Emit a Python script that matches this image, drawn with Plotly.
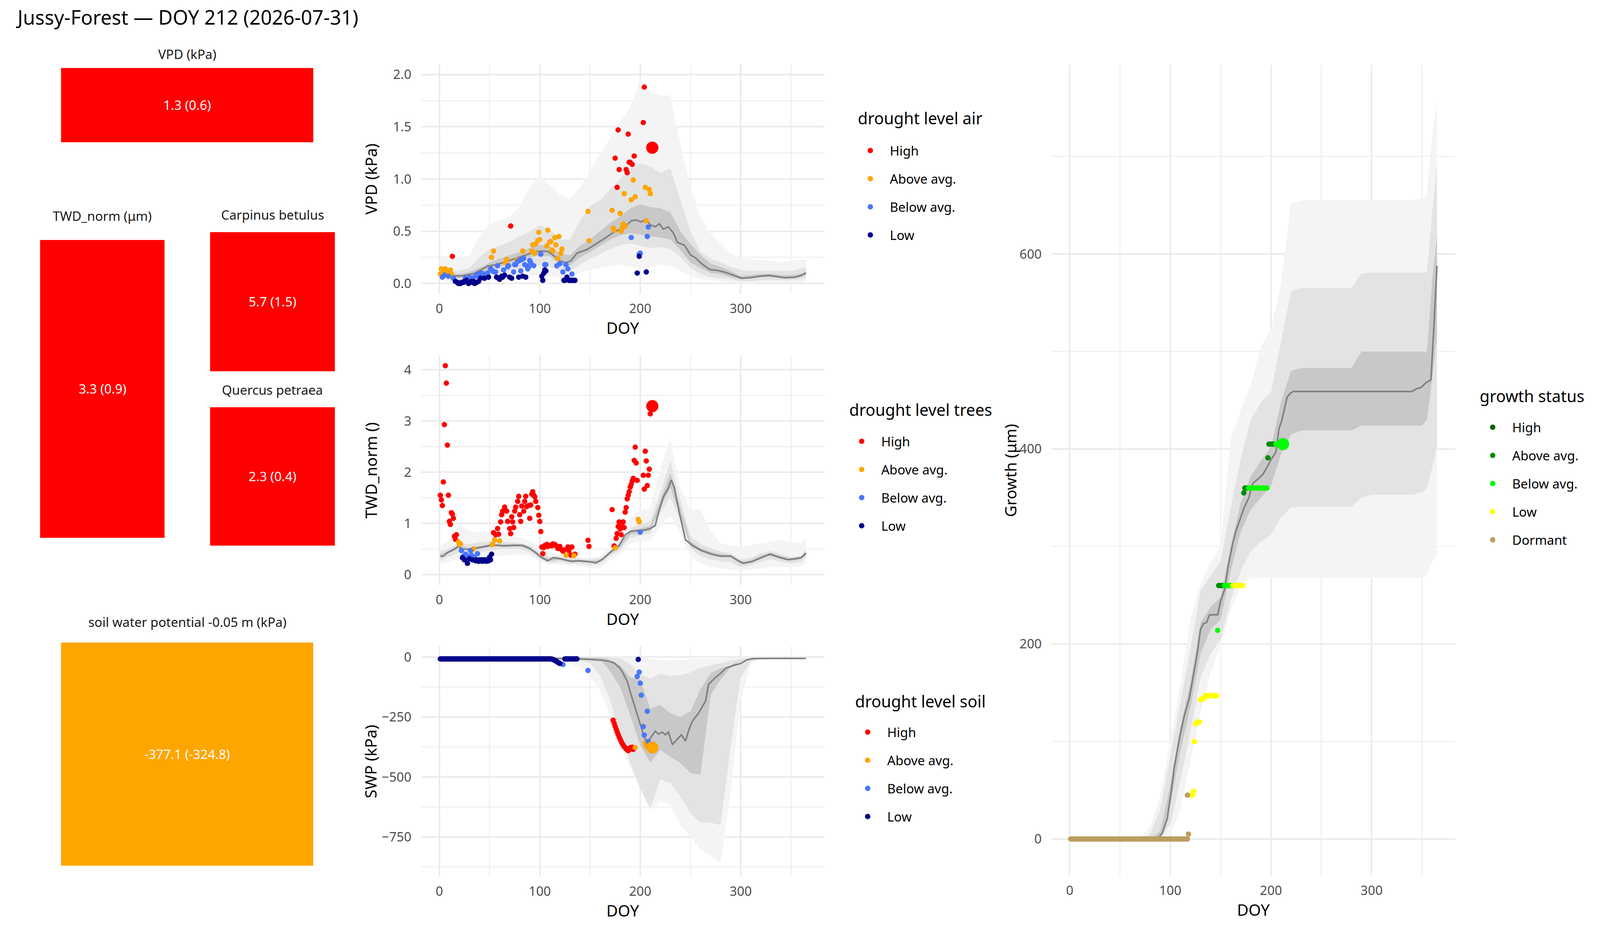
import plotly.graph_objects as go

# ---- header values ----
SITE = "Jussy-Forest"
DOY_NOW = 212
DATE_NOW = "2026-07-31"

LEVELS = ["High", "Above avg.", "Below avg.", "Low"]
LEVEL_COLORS = ["#FF0000", "#FFA500", "#4876FF", "#00008B"]
GROWTH_LEVELS = ["High", "Above avg.", "Below avg.", "Low", "Dormant"]
GROWTH_COLORS = ["#006400", "#008B00", "#00FF00", "#FFFF00", "#BC9D60"]

# ---- summary tiles ----
tile_names = ["VPD (kPa)", "TWD_norm (μm)", "Carpinus betulus", "Quercus petraea",
              "soil water potential -0.05 m (kPa)"]
tile_now = [1.3, 3.3, 5.7, 2.3, -377.1]
tile_mean = [0.6, 0.9, 1.5, 0.4, -324.8]
tile_level = ["High", "High", "High", "High", "Above avg."]

# ---- climatology bands (DOY grid) ----
band_doy = [1, 10, 20, 30, 40, 50, 60, 70, 80, 90, 100, 110, 120, 130, 140, 150, 160, 170, 180,
            190, 200, 210, 220, 230, 240, 250, 260, 270, 280, 290, 300, 310, 320, 330, 340, 350,
            360, 365]

vpd_out_hi = [0.27, 0.26, 0.25, 0.27, 0.45, 0.57, 0.61, 0.64, 0.74, 0.92, 1.04, 0.94, 0.85, 0.81,
              0.92, 1.07, 1.24, 1.39, 1.54, 1.69, 1.95, 1.84, 1.8, 1.8, 1.33, 0.92, 0.63, 0.48,
              0.38, 0.29, 0.24, 0.24, 0.22, 0.22, 0.2, 0.22, 0.23, 0.23]
vpd_out_lo = [0.03, 0.02, 0.0, 0.0, 0.01, 0.02, 0.04, 0.05, 0.06, 0.07, 0.08, 0.07, 0.05, 0.05,
              0.1, 0.13, 0.15, 0.17, 0.18, 0.16, 0.14, 0.16, 0.18, 0.17, 0.12, 0.07, 0.04, 0.03,
              0.02, 0.01, 0.0, 0.0, 0.01, 0.01, 0.01, 0.01, 0.01, 0.02]
vpd_mid_hi = [0.15, 0.13, 0.12, 0.15, 0.25, 0.33, 0.36, 0.4, 0.45, 0.5, 0.56, 0.52, 0.42, 0.42,
              0.6, 0.74, 0.8, 0.9, 1.0, 1.1, 1.15, 1.12, 1.06, 1.1, 0.8, 0.5, 0.3, 0.24, 0.2,
              0.16, 0.13, 0.12, 0.12, 0.12, 0.12, 0.12, 0.14, 0.16]
vpd_mid_lo = [0.05, 0.04, 0.03, 0.03, 0.05, 0.08, 0.1, 0.12, 0.14, 0.16, 0.17, 0.16, 0.12, 0.12,
              0.18, 0.24, 0.28, 0.33, 0.37, 0.38, 0.36, 0.34, 0.35, 0.33, 0.25, 0.15, 0.09, 0.06,
              0.05, 0.04, 0.02, 0.02, 0.03, 0.03, 0.03, 0.03, 0.04, 0.05]
vpd_in_hi = [0.09, 0.09, 0.09, 0.11, 0.15, 0.2, 0.24, 0.27, 0.3, 0.34, 0.37, 0.36, 0.28, 0.27,
             0.36, 0.42, 0.5, 0.58, 0.64, 0.72, 0.76, 0.73, 0.72, 0.68, 0.5, 0.38, 0.27, 0.19,
             0.16, 0.12, 0.07, 0.08, 0.09, 0.09, 0.08, 0.08, 0.09, 0.12]
vpd_in_lo = [0.06, 0.06, 0.05, 0.06, 0.09, 0.13, 0.16, 0.19, 0.22, 0.25, 0.27, 0.26, 0.18, 0.17,
             0.25, 0.3, 0.36, 0.42, 0.46, 0.48, 0.47, 0.45, 0.44, 0.42, 0.32, 0.2, 0.15, 0.1,
             0.09, 0.06, 0.04, 0.05, 0.06, 0.06, 0.05, 0.05, 0.06, 0.08]

twd_out_hi = [0.55, 0.68, 0.99, 0.85, 0.82, 0.83, 0.82, 0.78, 0.73, 0.66, 0.54, 0.43, 0.4, 0.36,
              0.34, 0.33, 0.36, 0.54, 0.71, 1.1, 1.27, 1.3, 2.08, 2.64, 1.69, 1.27, 1.27, 0.85,
              0.61, 0.57, 0.54, 0.57, 0.61, 0.64, 0.68, 0.64, 0.61, 0.71]
twd_out_lo = [0.22, 0.25, 0.3, 0.3, 0.3, 0.35, 0.36, 0.38, 0.4, 0.36, 0.28, 0.2, 0.2, 0.18, 0.17,
              0.13, 0.13, 0.28, 0.4, 0.6, 0.65, 0.67, 0.95, 1.15, 0.8, 0.35, 0.22, 0.15, 0.12,
              0.1, 0.07, 0.09, 0.12, 0.15, 0.15, 0.15, 0.16, 0.22]
twd_mid_hi = [0.45, 0.52, 0.62, 0.6, 0.63, 0.65, 0.65, 0.63, 0.62, 0.57, 0.44, 0.35, 0.36, 0.32,
              0.31, 0.3, 0.32, 0.47, 0.62, 0.9, 0.98, 1.05, 1.6, 2.22, 1.45, 0.75, 0.6, 0.52,
              0.45, 0.42, 0.3, 0.33, 0.42, 0.46, 0.4, 0.34, 0.37, 0.5]
twd_mid_lo = [0.28, 0.35, 0.43, 0.4, 0.44, 0.47, 0.5, 0.5, 0.5, 0.44, 0.3, 0.23, 0.25, 0.21, 0.21,
              0.18, 0.2, 0.36, 0.48, 0.72, 0.76, 0.8, 1.2, 1.5, 1.05, 0.52, 0.36, 0.3, 0.26,
              0.24, 0.15, 0.18, 0.26, 0.3, 0.25, 0.22, 0.24, 0.34]
twd_in_hi = [0.39, 0.47, 0.57, 0.52, 0.56, 0.6, 0.6, 0.6, 0.6, 0.54, 0.38, 0.31, 0.33, 0.29, 0.29,
             0.27, 0.28, 0.44, 0.62, 0.86, 0.9, 0.95, 1.45, 1.98, 1.3, 0.65, 0.52, 0.45, 0.4,
             0.39, 0.25, 0.28, 0.37, 0.43, 0.36, 0.32, 0.35, 0.45]
twd_in_lo = [0.33, 0.42, 0.52, 0.46, 0.5, 0.54, 0.55, 0.55, 0.55, 0.49, 0.33, 0.27, 0.29, 0.25,
             0.25, 0.23, 0.24, 0.4, 0.53, 0.78, 0.82, 0.86, 1.3, 1.7, 1.15, 0.55, 0.45, 0.38,
             0.34, 0.34, 0.2, 0.23, 0.32, 0.37, 0.31, 0.27, 0.3, 0.38]

swp_out_hi = [0, 0, 0, 0, 0, 0, 0, 0, 0, 0, 0, 0, 0, 0, 0, 0, 0, 0, 0, -3, -5, -8, -12, -15, -12,
              -8, -8, -8, -6, -4, -2, 0, 0, 0, 0, 0, 0, 0]
swp_out_lo = [-2, -2, -2, -2, -2, -2, -2, -2, -2, -2, -2, -5, -15, -25, -45, -80, -140, -240,
              -370, -460, -545, -640, -600, -615, -700, -750, -800, -830, -860, -560, -180, -30,
              -5, -2, -1, -1, -1, -1]
swp_mid_hi = [-1, -1, -1, -1, -1, -1, -1, -1, -1, -1, -1, -1, -1, -1, -1, -1, -1, -1, -5, -30,
              -70, -90, -70, -80, -75, -65, -45, -35, -25, -15, -8, -3, -1, -1, -1, -1, -1, -1]
swp_mid_lo = [-2, -2, -2, -2, -2, -2, -2, -2, -2, -2, -2, -2, -8, -12, -15, -25, -76, -180, -317,
              -441, -549, -630, -510, -525, -580, -650, -690, -690, -700, -370, -85, -18, -6, -3,
              -3, -3, -3, -3]
swp_in_hi = [-3, -3, -3, -3, -3, -3, -3, -3, -3, -3, -3, -3, -3, -3, -3, -3, -3, -12, -35, -85,
             -93, -215, -200, -234, -250, -226, -134, -68, -47, -35, -14, -7, -4, -4, -4, -4, -4,
             -4]
swp_in_lo = [-8, -8, -8, -8, -8, -8, -8, -8, -8, -8, -8, -8, -8, -8, -8, -8, -8, -60, -126, -242,
             -367, -440, -387, -416, -441, -483, -490, -160, -93, -43, -14, -8, -7, -7, -7, -7,
             -7, -7]

gr_band_doy = [1, 10, 20, 30, 40, 50, 60, 70, 80, 90, 100, 110, 120, 130, 140, 150, 160, 170, 180,
               190, 200, 210, 220, 230, 240, 250, 260, 270, 280, 290, 300, 310, 320, 330, 340,
               350, 355, 360, 365]
gr_out_hi = [0, 0, 0, 0, 0, 0, 0, 2, 12, 45, 100, 160, 225, 262, 283, 300, 410, 440, 465, 505, 522,
             570, 652, 655, 655, 655, 655, 655, 655, 655, 655, 655, 655, 655, 655, 657, 660, 720,
             756]
gr_out_lo = [0, 0, 0, 0, 0, 0, 0, 0, 0, 0, 5, 30, 80, 130, 170, 200, 235, 260, 268, 268, 268, 268,
             268, 268, 268, 268, 268, 268, 268, 268, 268, 268, 268, 268, 268, 268, 270, 285, 292]
gr_mid_hi = [0, 0, 0, 0, 0, 0, 0, 0, 5, 30, 85, 140, 195, 255, 270, 285, 340, 390, 430, 448, 458,
             510, 562, 565, 565, 565, 565, 565, 565, 580, 581, 581, 581, 581, 581, 581, 581, 640,
             690]
gr_mid_lo = [0, 0, 0, 0, 0, 0, 0, 0, 0, 0, 15, 60, 110, 165, 190, 205, 245, 275, 295, 305, 312,
             330, 340, 341, 341, 341, 341, 341, 341, 350, 353, 353, 353, 353, 353, 356, 360, 380,
             402]
gr_in_hi = [0, 0, 0, 0, 0, 0, 0, 0, 0, 8, 55, 115, 160, 222, 238, 248, 300, 345, 372, 388, 402,
            448, 480, 483, 483, 483, 483, 483, 483, 500, 500, 500, 500, 500, 500, 500, 500, 570,
            620]
gr_in_lo = [0, 0, 0, 0, 0, 0, 0, 0, 0, 0, 35, 90, 135, 190, 215, 225, 275, 315, 338, 350, 362,
            395, 415, 419, 419, 419, 419, 419, 419, 424, 424, 424, 424, 424, 424, 424, 430, 470,
            515]

# ---- climatology medians ----
vpd_med_doy = [1, 10, 22, 35, 48, 58, 67, 77, 86, 96, 102, 108, 113, 121, 126, 131, 137, 147, 156,
               166, 172, 179, 185, 191, 196, 201, 206, 210, 215, 219, 223, 228, 233, 237, 244,
               250, 255, 261, 269, 277, 285, 293, 301, 309, 319, 328, 338, 344, 354, 360, 365]
vpd_med = [0.074, 0.075, 0.072, 0.097, 0.165, 0.184, 0.21, 0.245, 0.273, 0.305, 0.31, 0.307,
           0.273, 0.212, 0.2, 0.217, 0.29, 0.325, 0.379, 0.44, 0.481, 0.515, 0.543, 0.6, 0.608,
           0.589, 0.617, 0.561, 0.543, 0.571, 0.519, 0.543, 0.483, 0.394, 0.366, 0.273, 0.245,
           0.19, 0.134, 0.125, 0.106, 0.078, 0.05, 0.054, 0.069, 0.078, 0.065, 0.054, 0.059,
           0.078, 0.1]

twd_med_doy = [1, 4, 8, 13, 19, 23, 29, 37, 45, 54, 64, 74, 83, 89, 96, 102, 108, 113, 118, 124,
               131, 140, 150, 156, 163, 172, 179, 185, 191, 198, 204, 210, 215, 218, 223, 228,
               231, 234, 239, 245, 252, 261, 271, 280, 290, 296, 303, 312, 322, 329, 338, 347,
               354, 360, 365]
twd_med = [0.36, 0.36, 0.43, 0.48, 0.55, 0.5, 0.49, 0.52, 0.55, 0.58, 0.56, 0.57, 0.57, 0.52,
           0.43, 0.33, 0.27, 0.33, 0.32, 0.29, 0.26, 0.27, 0.25, 0.23, 0.31, 0.47, 0.57, 0.78,
           0.85, 0.86, 0.87, 0.9, 0.96, 1.2, 1.52, 1.69, 1.85, 1.69, 1.2, 0.68, 0.57, 0.47, 0.4,
           0.36, 0.36, 0.29, 0.22, 0.26, 0.34, 0.4, 0.34, 0.29, 0.31, 0.33, 0.42]

swp_med_doy = [1, 50, 100, 115, 131, 150, 163, 169, 174, 179, 182, 187, 191, 196, 201, 204, 207,
               210, 215, 218, 222, 225, 228, 232, 236, 241, 245, 249, 252, 258, 265, 268, 274,
               280, 285, 293, 300, 306, 312, 325, 365]
swp_med = [-5, -5, -5, -6, -7, -10, -14, -18, -25, -43, -60, -101, -159, -226, -292, -333, -358,
           -338, -309, -321, -313, -324, -313, -365, -346, -324, -350, -296, -267, -234, -184,
           -114, -89, -68, -47, -35, -27, -12, -7, -6, -6]

gr_med_doy = [1, 87, 92, 97, 101, 104, 109, 114, 119, 124, 127, 130, 133, 136, 139, 147, 150, 154,
              157, 162, 165, 168, 173, 178, 182, 187, 192, 197, 200, 205, 208, 211, 214, 216, 219,
              222, 264, 340, 345, 349, 354, 359, 362, 365]
gr_med = [0, 0, 6, 21, 50, 74, 103, 127, 145, 174, 192, 215, 221, 222, 230, 230, 244, 256, 277,
          303, 315, 324, 339, 350, 365, 369, 374, 383, 389, 397, 421, 430, 444, 453, 457, 459,
          459, 459, 462, 463, 468, 471, 527, 588]

# ---- this year's observations ----
vpd_high_doy = [13, 71, 175, 177, 178, 179, 186, 187, 188, 189, 190, 192, 194, 203, 204]
vpd_high = [0.26, 0.55, 1.20, 0.92, 1.47, 1.09, 1.09, 1.06, 1.43, 1.16, 1.16, 1.14, 1.22, 1.54,
            1.88]
vpd_above_doy = [1, 2, 4, 6, 7, 10, 11, 12, 52, 54, 66, 67, 77, 83, 92, 93, 95, 96, 98, 99, 100,
                 107, 108, 110, 111, 112, 113, 115, 116, 118, 119, 121, 122, 148, 149, 172, 173,
                 174, 180, 181, 182, 183, 184, 185, 191, 193, 195, 205, 206, 209, 210]
vpd_above = [0.09, 0.14, 0.11, 0.14, 0.11, 0.12, 0.13, 0.09, 0.25, 0.31, 0.2, 0.23, 0.22, 0.31,
             0.31, 0.37, 0.29, 0.38, 0.41, 0.49, 0.42, 0.36, 0.51, 0.4, 0.4, 0.32, 0.31, 0.44,
             0.37, 0.24, 0.45, 0.29, 0.33, 0.69, 0.41, 0.7, 0.53, 0.51, 0.67, 0.5, 0.53, 0.57,
             0.86, 0.55, 0.8, 0.99, 0.83, 0.92, 0.6, 0.9, 0.86]
vpd_below_doy = [3, 5, 9, 14, 26, 28, 30, 33, 36, 38, 40, 42, 44, 46, 48, 51, 53, 55, 56, 58, 64,
                 68, 69, 74, 75, 76, 78, 80, 81, 82, 84, 85, 87, 88, 89, 90, 91, 94, 101, 105,
                 106, 117, 120, 123, 126, 128, 132, 191, 199, 200, 207, 208]
vpd_below = [0.06, 0.08, 0.07, 0.05, 0.05, 0.03, 0.06, 0.05, 0.07, 0.09, 0.07, 0.1, 0.09, 0.07,
             0.1, 0.14, 0.12, 0.11, 0.11, 0.17, 0.13, 0.16, 0.17, 0.11, 0.18, 0.18, 0.21, 0.22,
             0.12, 0.23, 0.24, 0.18, 0.17, 0.14, 0.16, 0.22, 0.2, 0.17, 0.28, 0.18, 0.18, 0.17,
             0.19, 0.11, 0.18, 0.14, 0.09, 0.44, 0.28, 0.29, 0.45, 0.54]
vpd_low_doy = [16, 18, 19, 21, 22, 24, 25, 27, 29, 31, 32, 34, 35, 37, 39, 41, 45, 49, 57, 59, 60,
               62, 63, 65, 70, 72, 79, 83, 86, 102, 103, 104, 105, 106, 124, 125, 127, 129, 130,
               131, 133, 135, 197, 199, 206]
vpd_low = [0.02, 0.01, 0.0, 0.0, 0.01, 0.01, 0.02, 0.03, 0.0, 0.01, 0.02, 0.02, 0.0, 0.01, 0.02,
           0.05, 0.05, 0.06, 0.06, 0.05, 0.04, 0.07, 0.06, 0.08, 0.06, 0.05, 0.06, 0.07, 0.06,
           0.07, 0.03, 0.1, 0.13, 0.12, 0.03, 0.03, 0.06, 0.03, 0.03, 0.03, 0.03, 0.03, 0.1,
           0.26, 0.11]

twd_high_doy = [1, 2, 3, 4, 5, 6, 7, 8, 9, 10, 11, 12, 13, 14, 15, 16, 17,
                54, 56, 58, 59, 61, 62, 63, 65, 66, 67, 68, 70, 71, 72, 73, 74, 75, 76, 78, 79,
                80, 81, 82, 84, 85, 86, 87, 89, 90, 91, 92, 93, 94, 95, 96, 98, 99, 100, 101,
                102, 103, 104, 105, 107, 108, 110, 112, 113, 115, 116, 118, 120, 121, 123, 124,
                128, 129, 131, 132, 135, 148, 149,
                172, 174, 176, 177, 178, 179, 180, 181, 182, 183, 184, 185, 186, 187, 188, 189,
                190, 191, 192, 193, 194, 195, 196, 197, 203, 204, 205, 206, 207, 208, 209, 210,
                211]
twd_high = [1.55, 1.46, 1.35, 1.81, 2.93, 4.08, 3.74, 2.53, 1.55, 1.04, 0.98, 1.21, 1.18, 1.1,
            0.75, 0.69, 0.78,
            0.82, 0.78, 0.9, 0.79, 1.03, 1.17, 1.24, 1.32, 1.25, 1.24, 1.04, 0.9, 0.8, 1.13,
            1.03, 0.92, 1.24, 1.32, 1.43, 1.53, 1.17, 1.04, 1.34, 1.24, 1.43, 1.53, 1.33, 1.35,
            1.1, 1.36, 1.57, 1.62, 1.55, 1.52, 1.43, 1.31, 1.16, 1.04, 0.84,
            0.54, 0.41, 0.53, 0.57, 0.59, 0.55, 0.57, 0.56, 0.6, 0.59, 0.57, 0.51, 0.55, 0.5,
            0.46, 0.48, 0.54, 0.47, 0.38, 0.54, 0.4, 0.67, 0.55,
            1.27, 0.56, 0.71, 0.8, 0.94, 1.03, 0.89, 0.78, 0.94, 1.03, 0.92, 1.22, 1.31, 1.48,
            1.55, 1.62, 1.71, 1.76, 1.83, 1.88, 2.23, 2.49, 2.18, 1.84, 1.94, 1.67, 2.41, 2.22,
            1.74, 1.94, 2.06, 3.14, 3.23]
twd_above_doy = [19, 20, 21, 34, 53, 55, 60, 126, 134, 175, 198, 199]
twd_above = [0.64, 0.59, 0.6, 0.5, 0.59, 0.68, 0.66, 0.38, 0.37, 0.52, 1.08, 1.03]
twd_below_doy = [22, 24, 26, 27, 29, 31, 32, 35, 38, 200]
twd_below = [0.47, 0.36, 0.4, 0.38, 0.33, 0.47, 0.38, 0.34, 0.41, 0.83]
twd_low_doy = [23, 25, 28, 30, 33, 36, 37, 39, 40, 41, 42, 43, 44, 45, 46, 47, 48, 49, 50, 51, 52]
twd_low = [0.33, 0.29, 0.22, 0.31, 0.29, 0.27, 0.29, 0.26, 0.29, 0.27, 0.29, 0.26, 0.29, 0.27,
           0.29, 0.26, 0.28, 0.27, 0.34, 0.29, 0.4]

swp_high_doy = [173, 174, 175, 176, 177, 178, 179, 180, 181, 182, 183, 184, 185, 186, 187, 188,
                189, 190, 191, 192, 193]
swp_high = [-263, -275, -288, -300, -312, -323, -333, -342, -352, -360, -367, -373, -378, -383,
            -387, -390, -387, -378, -377, -376, -385]
swp_above_doy = [195, 205, 206, 210]
swp_above = [-377, -358, -371, -372]
swp_below_doy = [123, 148, 197, 199, 200, 201, 203, 204, 207, 208]
swp_below = [-31, -56, -81, -63, -109, -159, -290, -325, -226, -352]
swp_low_doy = list(range(1, 111)) + [111, 112, 113, 114, 115, 116, 117, 118, 119, 120] + \
    list(range(125, 138)) + [198]
swp_low = [-8] * 110 + [-8, -9, -10, -12, -14, -17, -19, -22, -25, -27] + [-8] * 13 + [-10]

gr_above_doy = [148, 149, 150, 151, 152, 153, 173, 174, 175, 176, 177, 197, 198, 199, 200, 201,
                202, 203, 204]
gr_above = [260, 260, 260, 260, 260, 260, 355, 360, 360, 360, 360, 391, 405, 405, 405, 405, 405,
            405, 405]
gr_below_doy = [147, 154, 155, 156, 157, 158, 159, 160, 161, 178, 179, 180, 181, 182, 183, 184,
                185, 186, 187, 188, 189, 190, 191, 192, 193, 194, 195, 196, 205, 206, 207, 208,
                209, 210, 211]
gr_below = [214, 260, 260, 260, 260, 260, 260, 260, 260, 360, 360, 360, 360, 360, 360, 360, 360,
            360, 360, 360, 360, 360, 360, 360, 360, 360, 360, 360, 405, 405, 405, 405, 405, 405,
            405]
gr_low_doy = [121, 122, 123, 124, 125, 126, 127, 128, 129, 130, 131, 132, 133, 134, 135, 136, 137,
              138, 139, 140, 141, 142, 143, 144, 145, 146, 162, 163, 164, 165, 166, 167, 168,
              169, 170, 171, 172]
gr_low = [45, 45, 49, 100, 118, 119, 120, 120, 120, 143, 143, 144, 144, 145, 147, 147, 147, 147,
          147, 147, 147, 147, 147, 147, 147, 147, 260, 260, 260, 260, 260, 260, 260, 260, 260,
          260, 260]
gr_dormant_doy = list(range(1, 118)) + [118, 117]
gr_dormant = [0] * 117 + [5, 45]

vpd_now, twd_now, swp_now, gr_now = 1.3, 3.29, -377.1, 405
vpd_now_level, twd_now_level, swp_now_level, gr_now_level = "High", "High", "Above avg.", "Below avg."

# ---- figure ----
# positions are worked out on a 4800x2400 sheet and given to plotly as paper fractions;
# the figure then fills the browser window (which may be narrower than 4800 px)
W, H = 4800, 2400
SX = 4096 / 4800          # horizontal pixel scale of the window actually used
SF = 0.92                 # font / marker scale
FONT = "Noto Sans"
GRID = "#EBEBEB"
BAND_COLORS = ["#F4F4F4", "#E3E3E3", "#C8C8C8"]
DOY_RANGE = [-18.25, 383.25]


def fx(x):
    return x / W


def fy(y):
    return 1 - y / H


fig = go.Figure()
axes = {}
annotations = []


def ax_names(n):
    s = "" if n == 1 else str(n)
    return "x" + s, "y" + s, "xaxis" + s, "yaxis" + s


def panel(n, box, yrange, yticks, yminor, ytitle, title_x, ticktext=None):
    x0, x1, y0, y1 = box
    xr, yr, xk, yk = ax_names(n)
    axes[xk] = dict(
        domain=[fx(x0), fx(x1)], anchor=yr, range=DOY_RANGE, tickvals=[0, 100, 200, 300],
        showgrid=True, gridcolor=GRID, gridwidth=4, zeroline=False, showline=False,
        minor=dict(tickvals=[50, 150, 250, 350], showgrid=True, gridcolor=GRID, gridwidth=2),
        ticks="outside", ticklen=8, tickcolor="rgba(0,0,0,0)",
        tickfont=dict(size=36 * SF, color="#4D4D4D"),
        title=dict(text="DOY", font=dict(size=44 * SF, color="black"), standoff=2),
    )
    axes[yk] = dict(
        domain=[fy(y1), fy(y0)], anchor=xr, range=yrange, tickvals=yticks,
        ticktext=ticktext, showgrid=True, gridcolor=GRID, gridwidth=4, zeroline=False,
        showline=False,
        minor=dict(tickvals=yminor, showgrid=True, gridcolor=GRID, gridwidth=2),
        ticks="outside", ticklen=round(20 * SX), tickcolor="rgba(0,0,0,0)",
        tickfont=dict(size=36 * SF, color="#4D4D4D"),
    )
    annotations.append(dict(text=ytitle, x=fx(title_x), y=(fy(y0) + fy(y1)) / 2,
                            xref="paper", yref="paper", xanchor="center", yanchor="middle",
                            textangle=-90, showarrow=False,
                            font=dict(size=44 * SF, color="black")))
    return xr, yr


def bands(xr, yr, xs, pairs):
    for (lo, hi), col in zip(pairs, BAND_COLORS):
        fig.add_trace(go.Scatter(x=xs + xs[::-1], y=hi + lo[::-1], fill="toself", fillcolor=col,
                                 mode="lines", line=dict(width=0), hoverinfo="skip",
                                 showlegend=False, xaxis=xr, yaxis=yr))


def median(xr, yr, xs, ys):
    fig.add_trace(go.Scatter(x=xs, y=ys, mode="lines", line=dict(color="#808080", width=4),
                             hoverinfo="skip", showlegend=False, xaxis=xr, yaxis=yr))


def points(xr, yr, leg, names, colors, series, now_level, now_value):
    for name, col, (xs, ys) in zip(names, colors, series):
        fig.add_trace(go.Scatter(x=xs if xs else [None], y=ys if ys else [None], mode="markers",
                                 marker=dict(size=15 * SF, color=col), name=name, legend=leg,
                                 legendgroup=leg + name, xaxis=xr, yaxis=yr))
    fig.add_trace(go.Scatter(x=[DOY_NOW], y=[now_value], mode="markers",
                             marker=dict(size=34 * SF, color=colors[names.index(now_level)]),
                             showlegend=False, xaxis=xr, yaxis=yr))


# VPD
xr, yr = panel(1, (1263, 2473, 164, 752), [-0.1, 2.1], [0, 0.5, 1.0, 1.5, 2.0],
               [0.25, 0.75, 1.25, 1.75], "VPD (kPa)", 1112, ["0.0", "0.5", "1.0", "1.5", "2.0"])
bands(xr, yr, band_doy, [(vpd_out_lo, vpd_out_hi), (vpd_mid_lo, vpd_mid_hi),
                         (vpd_in_lo, vpd_in_hi)])
median(xr, yr, vpd_med_doy, vpd_med)
points(xr, yr, "legend", LEVELS, LEVEL_COLORS,
       [(vpd_high_doy, vpd_high), (vpd_above_doy, vpd_above), (vpd_below_doy, vpd_below),
        (vpd_low_doy, vpd_low)], vpd_now_level, vpd_now)

# TWD
xr, yr = panel(2, (1263, 2473, 909, 1497), [-0.204, 4.284], [0, 1, 2, 3, 4],
               [0.5, 1.5, 2.5, 3.5], "TWD_norm ()", 1112)
bands(xr, yr, band_doy, [(twd_out_lo, twd_out_hi), (twd_mid_lo, twd_mid_hi),
                         (twd_in_lo, twd_in_hi)])
median(xr, yr, twd_med_doy, twd_med)
points(xr, yr, "legend2", LEVELS, LEVEL_COLORS,
       [(twd_high_doy, twd_high), (twd_above_doy, twd_above), (twd_below_doy, twd_below),
        (twd_low_doy, twd_low)], twd_now_level, twd_now)

# SWP
xr, yr = panel(3, (1263, 2473, 1654, 2243), [-915, 44], [0, -250, -500, -750],
               [-125, -375, -625, -875], "SWP (kPa)", 1112)
bands(xr, yr, band_doy, [(swp_out_lo, swp_out_hi), (swp_mid_lo, swp_mid_hi),
                         (swp_in_lo, swp_in_hi)])
median(xr, yr, swp_med_doy, swp_med)
points(xr, yr, "legend3", LEVELS, LEVEL_COLORS,
       [(swp_high_doy, swp_high), (swp_above_doy, swp_above), (swp_below_doy, swp_below),
        (swp_low_doy, swp_low)], swp_now_level, swp_now)

# Growth
xr, yr = panel(4, (3154, 4366, 166, 2241), [-37.8, 794], [0, 200, 400, 600],
               [100, 300, 500, 700], "Growth (μm)", 3031)
bands(xr, yr, gr_band_doy, [(gr_out_lo, gr_out_hi), (gr_mid_lo, gr_mid_hi),
                            (gr_in_lo, gr_in_hi)])
median(xr, yr, gr_med_doy, gr_med)
points(xr, yr, "legend4", GROWTH_LEVELS, GROWTH_COLORS,
       [([], []), (gr_above_doy, gr_above), (gr_below_doy, gr_below), (gr_low_doy, gr_low),
        (gr_dormant_doy, gr_dormant)], gr_now_level, gr_now)

# summary tiles (one-cell heatmaps on hidden axes)
tile_boxes = [(183, 940, 174, 364), (120, 494, 614, 1376), (630, 1005, 594, 950),
              (630, 1005, 1042, 1396), (183, 940, 1644, 2215)]
tile_title_y = [139, 552, 550, 997, 1591]
for i, name in enumerate(tile_names):
    n = 5 + i
    x0, x1, y0, y1 = tile_boxes[i]
    xr, yr, xk, yk = ax_names(n)
    axes[xk] = dict(domain=[fx(x0), fx(x1)], anchor=yr, range=[-0.5, 0.5], visible=False,
                    fixedrange=True)
    axes[yk] = dict(domain=[fy(y1), fy(y0)], anchor=xr, range=[-0.5, 0.5], visible=False,
                    fixedrange=True)
    col = LEVEL_COLORS[LEVELS.index(tile_level[i])]
    fig.add_trace(go.Heatmap(z=[[1]], x=[0], y=[0], colorscale=[[0, col], [1, col]],
                             showscale=False, text=[[f"{tile_now[i]} ({tile_mean[i]})"]],
                             texttemplate="%{text}", textfont=dict(color="white", size=36 * SF),
                             hoverinfo="skip", xaxis=xr, yaxis=yr))
    annotations.append(dict(text=name, x=fx((x0 + x1) / 2), y=fy(tile_title_y[i]),
                            xref="paper", yref="paper", xanchor="center", yanchor="middle",
                            showarrow=False, font=dict(size=36 * SF, color="#1A1A1A")))

annotations.append(dict(text=f"{SITE} — DOY {DOY_NOW} ({DATE_NOW})", x=fx(46), y=fy(44),
                        xref="paper", yref="paper", xanchor="left", yanchor="middle",
                        showarrow=False, font=dict(size=55 * SF, color="black")))

# legends: title drawn as text, entries by plotly
legend_titles = ["drought level air", "drought level trees", "drought level soil",
                 "growth status"]
legend_title_pos = [(2571, 302), (2545, 1048), (2563, 1794), (4437, 1013)]
legend_marker_pos = [(2604, 385), (2578, 1129), (2596, 1873), (4471, 1093)]
item_w = 90
legends = {}
for i, (title, (tx, ty), (mx, my)) in enumerate(zip(legend_titles, legend_title_pos,
                                                    legend_marker_pos)):
    annotations.append(dict(text=title, x=fx(tx), y=fy(ty), xref="paper", yref="paper",
                            xanchor="left", yanchor="middle", showarrow=False,
                            font=dict(size=45 * SF, color="black")))
    key = "legend" if i == 0 else f"legend{i + 1}"
    legends[key] = dict(x=fx(mx) - (item_w / 2 - 1) / (W * SX), y=fy(my - 28),
                        xanchor="left", yanchor="top", traceorder="grouped", tracegroupgap=26,
                        bgcolor="rgba(0,0,0,0)", font=dict(size=36 * SF, color="black"),
                        itemwidth=item_w)

fig.update_layout(
    margin=dict(l=0, r=0, t=0, b=0),
    paper_bgcolor="white", plot_bgcolor="white",
    font=dict(family=FONT, color="black"),
    annotations=annotations,
    **legends,
    **axes,
)

# let the figure take the whole window
fill_window = ("var gd=document.getElementById('{plot_id}');"
               "document.body.style.margin='0';"
               "gd.style.width='100vw';gd.style.height='100vh';"
               "Plotly.Plots.resize(gd);")
fig.write_html("out.html", config={"displayModeBar": False},
               default_width="calc(100vw - 16px)", default_height="calc(100vh - 16px)",
               post_script=fill_window)
